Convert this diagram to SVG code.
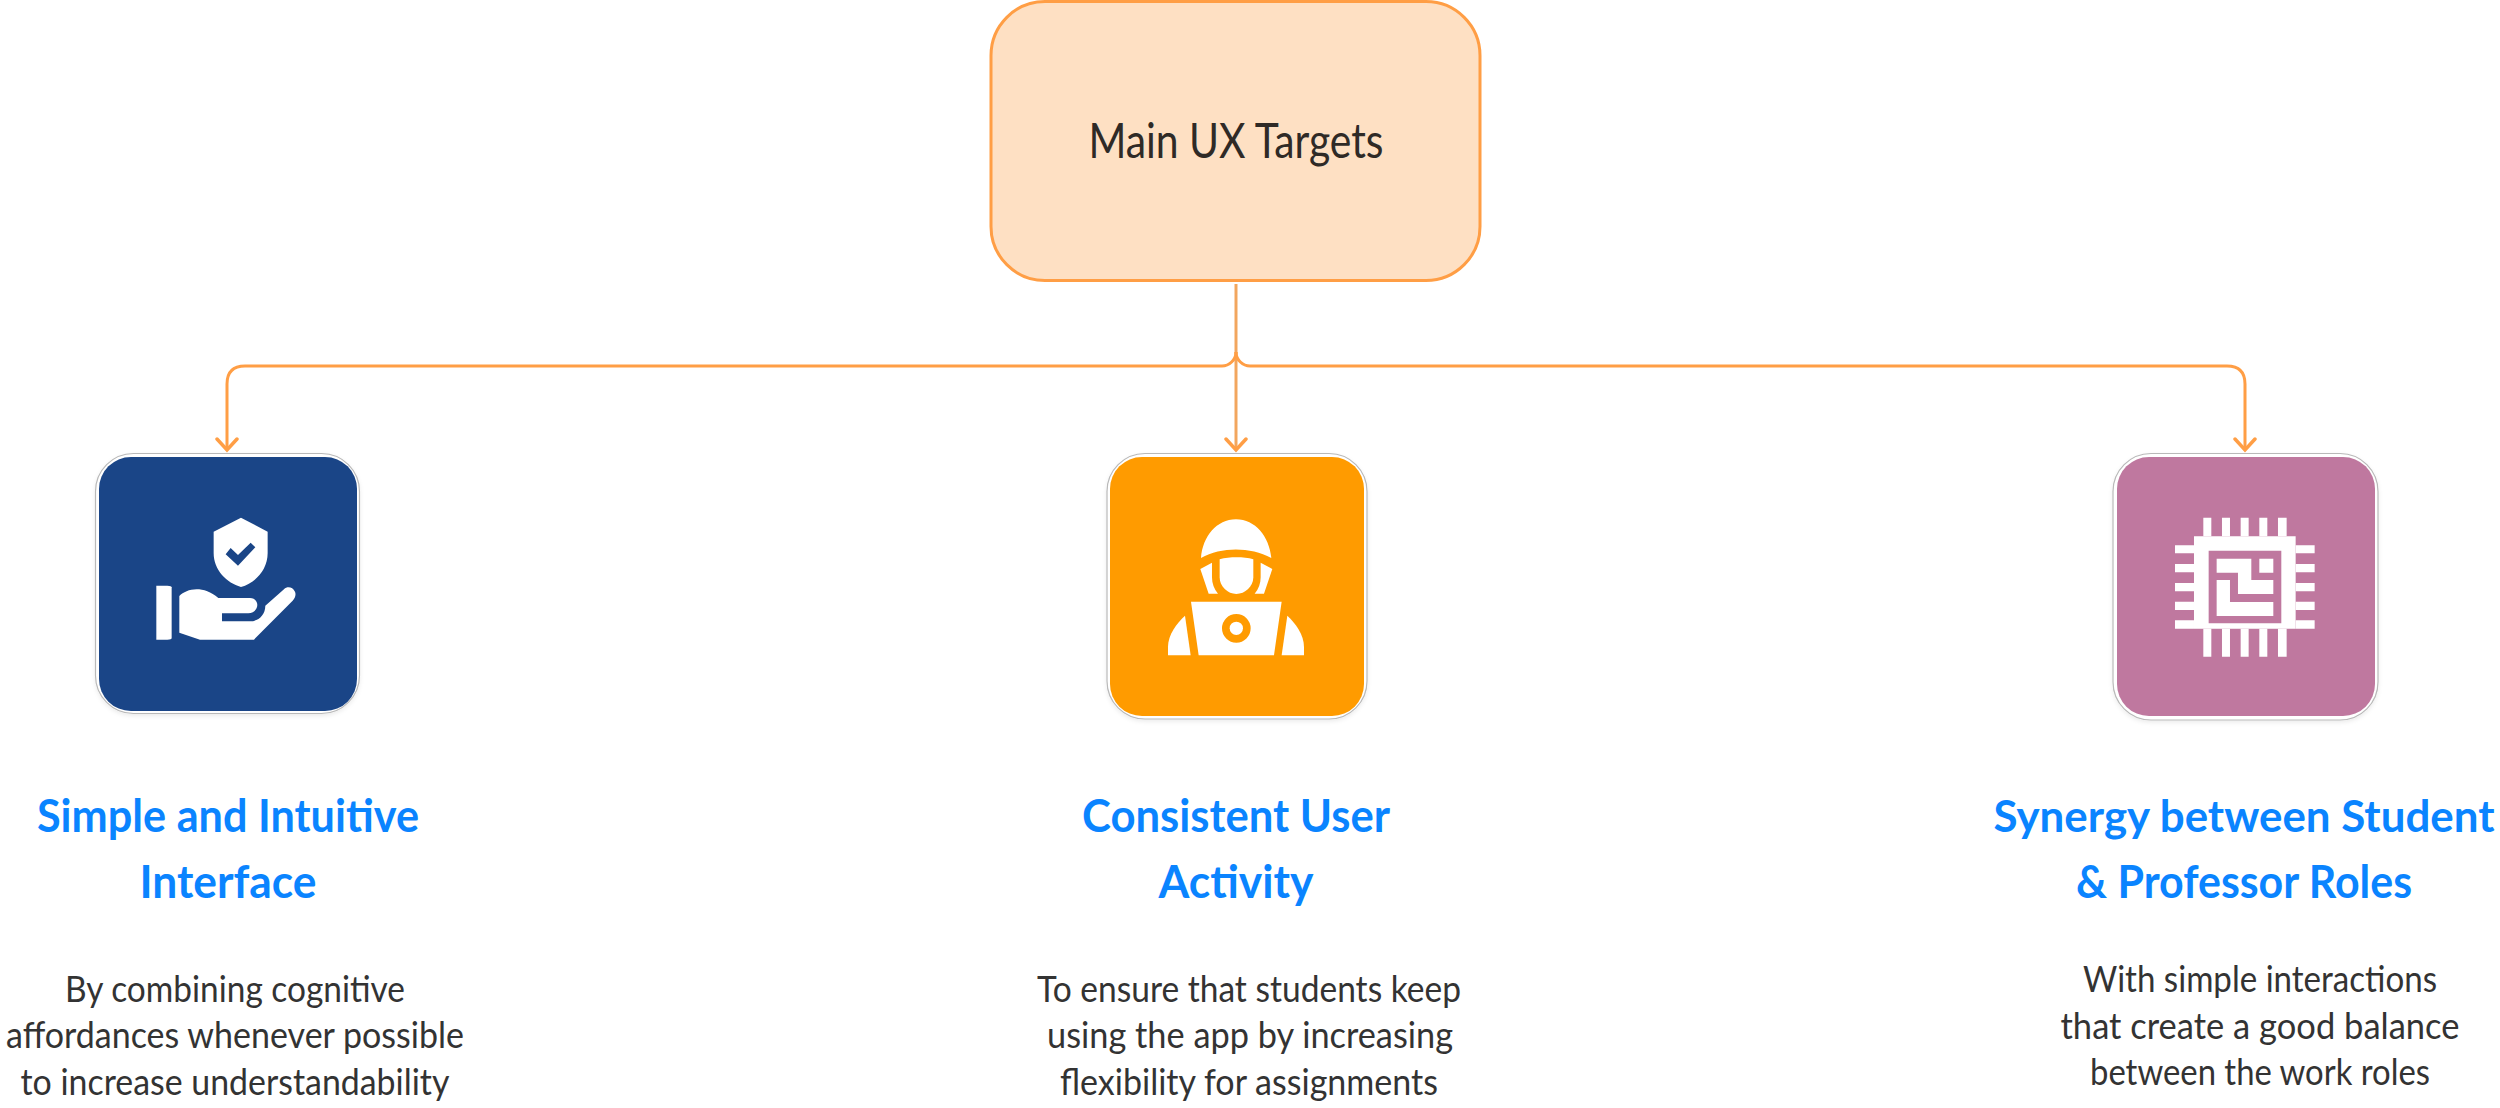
<svg xmlns="http://www.w3.org/2000/svg" width="2500" height="1108" viewBox="0 0 2500 1108">
<defs>
<marker id="arrow" markerUnits="userSpaceOnUse" markerWidth="16" markerHeight="26" refX="13" refY="12" orient="auto" viewBox="0 0 16 24"><path d="M2 2 L13 12 L2 22" fill="none" stroke="#ff9e45" stroke-width="3.5" stroke-linecap="round"/></marker>
<filter id="soft" x="-5%" y="-5%" width="110%" height="112%"><feDropShadow dx="0" dy="2" stdDeviation="2" flood-color="#000" flood-opacity="0.08"/></filter>
</defs>
<style>
text{font-family:"Lato","Open Sans","Liberation Sans",sans-serif;text-anchor:middle}
.title{font-size:46px;font-weight:700;fill:#0a84ff}
.title.tight{font-size:44px}
.body{font-size:37px;fill:#333333}
.main{font-size:48px;fill:#2f2a26}
.wire{fill:none;stroke:#ff9e45;stroke-width:3}
.frame{fill:#fff;stroke:#b9b9b9;stroke-width:1.2;filter:url(#soft)}
.ico{fill:#fff;fill-rule:evenodd}
</style>
<rect width="2500" height="1108" fill="#fff"/>
<g id="connectors">
<path class="wire" d="M1236 284 V450" style="stroke:#f2a65e" marker-end="url(#arrow)"/>
<path class="wire" d="M1236 352 C1236 360 1229 366 1222 366 H245 Q227 366 227 384 V450" marker-end="url(#arrow)"/>
<path class="wire" d="M1236 352 C1236 360 1243 366 1250 366 H2227 Q2245 366 2245 384 V450" marker-end="url(#arrow)"/>
</g>
<g id="node-main">
<rect x="991" y="1.5" width="489" height="279" rx="54" fill="#fee0c3" stroke="#ff9e45" stroke-width="3"/>
<text class="main" x="1236" y="158" textLength="295" lengthAdjust="spacingAndGlyphs">Main UX Targets</text>
</g>
<g id="node-simple">
<rect class="frame" x="95.5" y="453.5" width="264" height="260" rx="38"/>
<rect x="99" y="457" width="258" height="254" rx="32" fill="#1a4587"/>
<g transform="translate(80 340) scale(.3333)">
<path class="ico" d="M483 533 L563 575 V640 C563 690 525 730 483 741 C441 730 401 690 401 640 V575 Z M437 643 L474 677 L526 622 L512 608 L474 645 L452 624 Z"/>
<path class="ico" d="M229 737 H262 Q275 738 275 742 V894 Q275 899 262 899 H229Z"/>
<path class="ico" d="M298 768 C320 745 370 735 415 774 H510 C525 774 532 785 532 795 C532 808 520 820 505 820 H426 V844 H510 C535 844 556 825 556 797 L612 748 C622 738 638 741 645 755 C649 765 645 775 638 782 L522 899 H360 L298 878 Z"/>
</g>
<text class="title" x="228" y="832" textLength="382" lengthAdjust="spacingAndGlyphs">Simple and Intuitive</text>
<text class="title" x="228" y="898" textLength="177" lengthAdjust="spacingAndGlyphs">Interface</text>
<text class="body" x="235" y="1002" textLength="340" lengthAdjust="spacingAndGlyphs">By combining cognitive</text>
<text class="body" x="235" y="1048" textLength="458" lengthAdjust="spacingAndGlyphs">affordances whenever possible</text>
<text class="body" x="235" y="1095" textLength="429" lengthAdjust="spacingAndGlyphs">to increase understandability</text>
</g>
<g id="node-consistent">
<rect class="frame" x="1107" y="453.5" width="260" height="265.5" rx="38"/>
<rect x="1110" y="457" width="254" height="259" rx="32" fill="#ff9b00"/>
<g transform="translate(1090 440) scale(.3333)">
<path class="ico" d="M333 354 C338 290 380 238 438 238 C496 238 538 290 544 354 C480 320 395 320 333 354Z"/>
<path class="ico" d="M389 358 C420 350 460 350 490 358 V412 C490 440 465 462 439 462 C413 462 389 440 389 412Z"/>
<path class="ico" d="M331 387 L366 368 V412 C366 430 372 448 384 461 H356 Z"/>
<path class="ico" d="M547 387 L512 368 V412 C512 430 506 448 494 461 H522 Z"/>
<path class="ico" d="M303 485 H575 L552 646 H326 Z M439 522 A43 43 0 1 0 439 608 A43 43 0 1 0 439 522 Z"/>
<circle class="ico" cx="439" cy="565" r="20"/>
<path class="ico" d="M285 527 L302 646 H234 V620 C234 585 260 550 285 527Z"/>
<path class="ico" d="M592 527 L575 646 H642 V620 C642 585 617 550 592 527Z"/>
</g>
<text class="title" x="1236" y="832" textLength="308" lengthAdjust="spacingAndGlyphs">Consistent User</text>
<text class="title" x="1236" y="898" textLength="155" lengthAdjust="spacingAndGlyphs">Activity</text>
<text class="body" x="1249" y="1002" textLength="424" lengthAdjust="spacingAndGlyphs">To ensure that students keep</text>
<text class="body" x="1250" y="1048" textLength="406" lengthAdjust="spacingAndGlyphs">using the app by increasing</text>
<text class="body" x="1249" y="1095" textLength="378" lengthAdjust="spacingAndGlyphs">flexibility for assignments</text>
</g>
<g id="node-synergy">
<rect class="frame" x="2113" y="453.5" width="265" height="266.5" rx="38"/>
<rect x="2117" y="457" width="258" height="259" rx="32" fill="#bf789f"/>
<g transform="translate(2090 340) scale(.3333)">
<path class="ico" d="M312 589 H617 V866 H312Z M356 632 V850 H574 V632Z"/>
<path class="ico" d="M340 533h24v56h-24z M396 533h24v56h-24z M452 533h24v56h-24z M508 533h24v56h-24z M564 533h26v56h-26z M340 866h24v84h-24z M396 866h24v84h-24z M452 866h24v84h-24z M508 866h24v84h-24z M564 866h26v84h-26z M255 616h57v24h-57z M255 672h57v25h-57z M255 729h57v25h-57z M255 785h57v25h-57z M255 841h57v25h-57z M617 616h57v24h-57z M617 672h57v25h-57z M617 729h57v25h-57z M617 785h57v25h-57z M617 841h57v25h-57z"/>
<path class="ico" d="M508 656h42v42h-42z M380 656 H484 V720 H550 V762 H444 V698 H380Z M380 720 H420 V786 H550 V828 H380Z"/>
</g>
<text class="title tight" x="2244" y="832" textLength="501" lengthAdjust="spacingAndGlyphs">Synergy between Student</text>
<text class="title" x="2244" y="898" textLength="336" lengthAdjust="spacingAndGlyphs">&amp; Professor Roles</text>
<text class="body" x="2260" y="992" textLength="354" lengthAdjust="spacingAndGlyphs">With simple interactions</text>
<text class="body" x="2260" y="1039" textLength="399" lengthAdjust="spacingAndGlyphs">that create a good balance</text>
<text class="body" x="2260" y="1085" textLength="340" lengthAdjust="spacingAndGlyphs">between the work roles</text>
</g>
</svg>
